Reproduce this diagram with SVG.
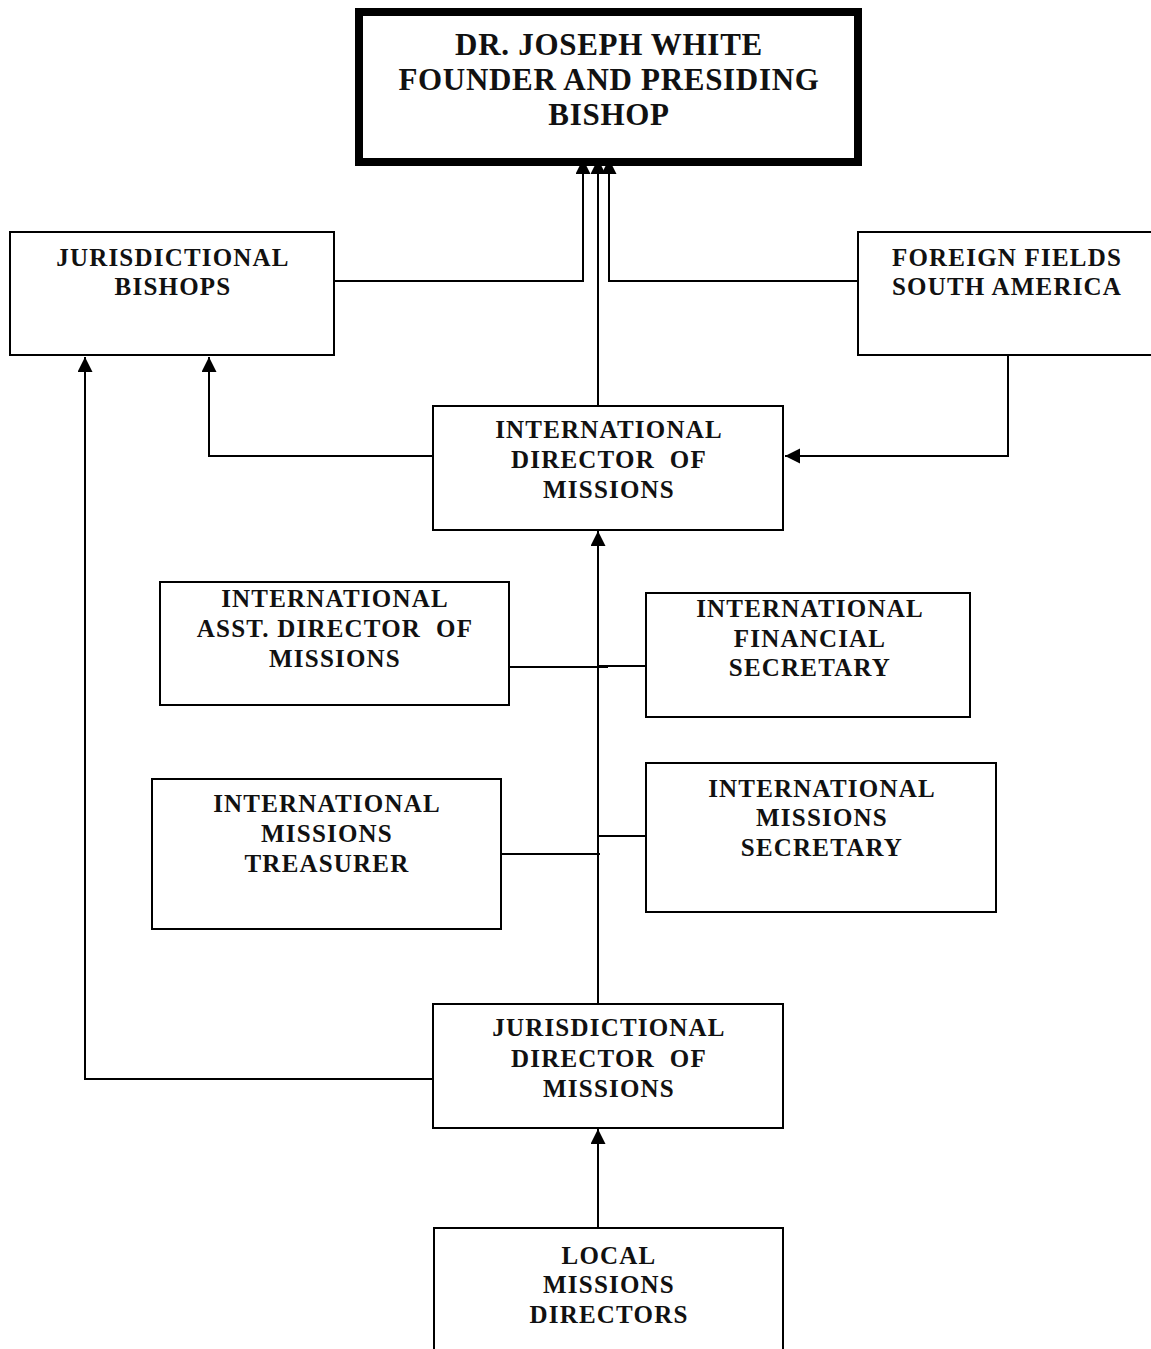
<svg xmlns="http://www.w3.org/2000/svg" width="1151" height="1349" viewBox="0 0 1151 1349">
<style>
.box{fill:#fff;stroke:#000;stroke-width:2}
.title{fill:#fff;stroke:#000;stroke-width:8}
.t{font-family:"Liberation Serif","Times New Roman",serif;font-weight:bold;font-size:25px;letter-spacing:1.2px;text-anchor:middle;fill:#111}
.tt{font-family:"Liberation Serif","Times New Roman",serif;font-weight:bold;font-size:31px;letter-spacing:0.7px;text-anchor:middle;fill:#111}
.c{fill:none;stroke:#000;stroke-width:2}
</style>
<defs>
<marker id="arr" markerUnits="userSpaceOnUse" markerWidth="16" markerHeight="16" refX="15" refY="7.5" orient="auto">
<path d="M0,0 L15,7.5 L0,15 z" fill="#000"/>
</marker>
</defs>
<rect width="1151" height="1349" fill="#fff"/>
<g id="connectors">
<path class="c" d="M334,281 H583 V159" marker-end="url(#arr)"/>
<path class="c" d="M858,281 H609 V159" marker-end="url(#arr)"/>
<path class="c" d="M598,405 V159" marker-end="url(#arr)"/>
<path class="c" d="M433,456 H209 V357" marker-end="url(#arr)"/>
<path class="c" d="M1008,355 V456 H785" marker-end="url(#arr)"/>
<path class="c" d="M598,1004 V531" marker-end="url(#arr)"/>
<path class="c" d="M433,1079 H85 V357" marker-end="url(#arr)"/>
<path class="c" d="M598,1228 V1129" marker-end="url(#arr)"/>
<path class="c" d="M509,667 H608"/>
<path class="c" d="M598,666 H646"/>
<path class="c" d="M501,854 H600"/>
<path class="c" d="M598,836 H646"/>
</g>
<g id="node-presiding-bishop">
<rect class="title" x="359" y="12" width="499" height="150"/>
<text class="tt" x="609" y="55">DR. JOSEPH WHITE</text>
<text class="tt" x="609" y="90">FOUNDER AND PRESIDING</text>
<text class="tt" x="609" y="125">BISHOP</text>
</g>
<g id="node-jurisdictional-bishops">
<rect class="box" x="10" y="232" width="324" height="123"/>
<text class="t" x="173" y="266">JURISDICTIONAL</text>
<text class="t" x="173" y="295">BISHOPS</text>
</g>
<g id="node-foreign-fields">
<rect class="box" x="858" y="232" width="300" height="123"/>
<text class="t" x="1007" y="266">FOREIGN FIELDS</text>
<text class="t" x="1007" y="295">SOUTH AMERICA</text>
</g>
<g id="node-intl-director">
<rect class="box" x="433" y="406" width="350" height="124"/>
<text class="t" x="609" y="438">INTERNATIONAL</text>
<text class="t" x="609" y="468" xml:space="preserve">DIRECTOR  OF</text>
<text class="t" x="609" y="498">MISSIONS</text>
</g>
<g id="node-intl-asst-director">
<rect class="box" x="160" y="582" width="349" height="123"/>
<text class="t" x="335" y="607">INTERNATIONAL</text>
<text class="t" x="335" y="637" xml:space="preserve">ASST. DIRECTOR  OF</text>
<text class="t" x="335" y="667">MISSIONS</text>
</g>
<g id="node-intl-financial-secretary">
<rect class="box" x="646" y="593" width="324" height="124"/>
<text class="t" x="810" y="617">INTERNATIONAL</text>
<text class="t" x="810" y="647">FINANCIAL</text>
<text class="t" x="810" y="676">SECRETARY</text>
</g>
<g id="node-intl-missions-treasurer">
<rect class="box" x="152" y="779" width="349" height="150"/>
<text class="t" x="327" y="812">INTERNATIONAL</text>
<text class="t" x="327" y="842">MISSIONS</text>
<text class="t" x="327" y="872">TREASURER</text>
</g>
<g id="node-intl-missions-secretary">
<rect class="box" x="646" y="763" width="350" height="149"/>
<text class="t" x="822" y="797">INTERNATIONAL</text>
<text class="t" x="822" y="826">MISSIONS</text>
<text class="t" x="822" y="856">SECRETARY</text>
</g>
<g id="node-jurisdictional-director">
<rect class="box" x="433" y="1004" width="350" height="124"/>
<text class="t" x="609" y="1036">JURISDICTIONAL</text>
<text class="t" x="609" y="1067" xml:space="preserve">DIRECTOR  OF</text>
<text class="t" x="609" y="1097">MISSIONS</text>
</g>
<g id="node-local-directors">
<rect class="box" x="434" y="1228" width="349" height="140"/>
<text class="t" x="609" y="1264">LOCAL</text>
<text class="t" x="609" y="1293">MISSIONS</text>
<text class="t" x="609" y="1323">DIRECTORS</text>
</g>
</svg>
